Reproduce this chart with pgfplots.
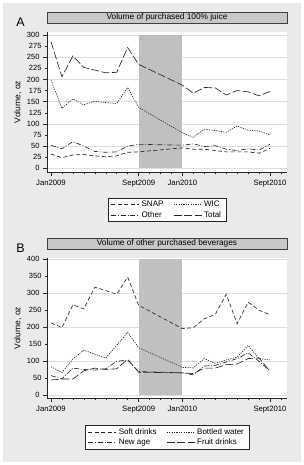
\documentclass[border=0pt]{standalone}
\usepackage{pgfplots}
\pgfplotsset{compat=1.18}
\usepackage{fontspec}
\setmainfont{Liberation Sans}
\definecolor{bggray}{RGB}{234,234,234}
\definecolor{bandgray}{RGB}{192,192,192}
\definecolor{titlegray}{RGB}{200,200,200}
\definecolor{gridgray}{RGB}{222,222,222}
\definecolor{ln}{RGB}{40,40,40}
\pgfplotsset{
  stataax/.style={
    scale only axis, width=240pt, height=140pt,
    axis lines=left, axis line style={-, black!85, line width=0.6pt},
    axis background/.style={fill=white},
    xmin=-0.365, xmax=21.55,
    xtick={0,8,12,20}, xticklabels={Jan2009,Sept2009,Jan2010,Sept2010},
    minor xtick={1,2,3,4,5,6,7,9,10,11,13,14,15,16,17,18,19,21},
    tick align=outside, major tick length=4pt, minor tick length=2.5pt,
    tick style={black!85, line width=0.5pt},
    x tick label style={font=\fontsize{7.7}{8}\selectfont, yshift=-1pt},
    y tick label style={font=\fontsize{7.5}{8}\selectfont},
    /pgf/number format/assume math mode=true,
    ymajorgrids, major grid style={gridgray, line width=0.7pt},
    extra y tick style={grid=none, major tick length=2pt,
      tick label style={font=\fontsize{3.6}{4}\selectfont}},
    ylabel={Volume, oz},
    ylabel style={at={(axis description cs:-0.121,0.5)}, anchor=center, font=\fontsize{8.5}{9}\selectfont},
    title style={at={(0.5,1)}, anchor=south, yshift=3pt, draw=black!75, fill=titlegray,
      minimum width=240pt, minimum height=11pt, inner sep=0pt, font=\fontsize{8.3}{9}\selectfont},
    legend columns=2,
    legend cell align=left,
    legend style={at={(0.5,0)}, anchor=north, draw=black!85, fill=white,
      font=\fontsize{8}{9}\selectfont, inner xsep=3pt, inner ysep=1pt, row sep=-1pt,
      /tikz/every even column/.append style={column sep=8pt}},
    legend image code/.code={\draw[#1] (0pt,0pt) -- (28pt,0pt);},
    every axis plot/.append style={line width=0.65pt, ln},
  },
  snap/.style={dash pattern=on 4pt off 2.5pt},
  wic/.style={dash pattern=on 1.2pt off 1.2pt},
  oth/.style={dash pattern=on 5pt off 1.8pt on 0.8pt off 1.8pt},
  tot/.style={dash pattern=on 8pt off 2.5pt},
}
\begin{document}
\begin{tikzpicture}[x=1pt,y=1pt]
\path[use as bounding box] (0,0) rectangle (304,465);
\fill[white] (0,0) rectangle (304,465);
\fill[bggray] (3,3) rectangle (301,462);
\node[font=\fontsize{12.5}{13}\selectfont, anchor=center] at (20.5,442.5) {A};
\node[font=\fontsize{12.5}{13}\selectfont, anchor=center] at (20.5,216.5) {B};

\begin{axis}[stataax, at={(47pt,293pt)}, anchor=south west,
  ymin=-8.3, ymax=306.8, ytick={0,50,...,300}, extra y ticks={25,75,...,275},
  title={Volume of purchased 100\% juice},
  legend style={yshift=-26pt}]
\addplot[fill=bandgray, draw=none, forget plot] coordinates {(8,300) (12,300)} \closedcycle;
\addplot[snap] coordinates {(0,32) (1,24) (2,30) (3,31) (4,28) (5,26) (6,28) (7,36) (8,37) (12,46) (13,43) (14,43) (15,40) (16,37) (17,37) (18,37) (19,34) (20,45)};
\addplot[wic] coordinates {(0,199) (1,135) (2,156) (3,143) (4,151) (5,148) (6,146) (7,182) (8,137) (12,80) (13,70) (14,88) (15,85) (16,81) (17,95) (18,86) (19,84) (20,75)};
\addplot[oth] coordinates {(0,52) (1,44) (2,60) (3,50) (4,38) (5,36) (6,37) (7,50) (8,54) (12,52) (13,55) (14,49) (15,51) (16,43) (17,40) (18,44) (19,41) (20,54)};
\addplot[tot] coordinates {(0,285) (1,206) (2,253) (3,227) (4,221) (5,215) (6,216) (7,272) (8,234) (12,187) (13,169) (14,182) (15,181) (16,165) (17,175) (18,172) (19,163) (20,173)};
\legend{SNAP,WIC,Other,Total}
\end{axis}

\begin{axis}[stataax, at={(47pt,67pt)}, anchor=south west,
  ymin=-7.9, ymax=403.8, ytick={0,100,...,400}, extra y ticks={50,150,...,350},
  title={Volume of other purchased beverages},
  legend style={yshift=-27.5pt}]
\addplot[fill=bandgray, draw=none, forget plot] coordinates {(8,400) (12,400)} \closedcycle;
\addplot[snap] coordinates {(0,213) (1,199) (2,266) (3,254) (4,318) (5,308) (6,297) (7,348) (8,265) (12,196) (13,199) (14,225) (15,238) (16,297) (17,211) (18,274) (19,250) (20,237)};
\addplot[wic] coordinates {(0,84) (1,67) (2,107) (3,133) (4,121) (5,110) (6,147) (7,185) (8,140) (12,82) (13,81) (14,108) (15,94) (16,104) (17,112) (18,147) (19,108) (20,104)};
\addplot[oth] coordinates {(0,58) (1,48) (2,80) (3,76) (4,74) (5,78) (6,100) (7,104) (8,70) (12,66) (13,60) (14,86) (15,88) (16,98) (17,108) (18,125) (19,100) (20,72)};
\addplot[tot] coordinates {(0,45) (1,48) (2,48) (3,72) (4,80) (5,76) (6,78) (7,106) (8,68) (12,66) (13,64) (14,80) (15,80) (16,90) (17,92) (18,108) (19,110) (20,70)};
\legend{Soft drinks,Bottled water,New age,Fruit drinks}
\end{axis}
\end{tikzpicture}
\end{document}
